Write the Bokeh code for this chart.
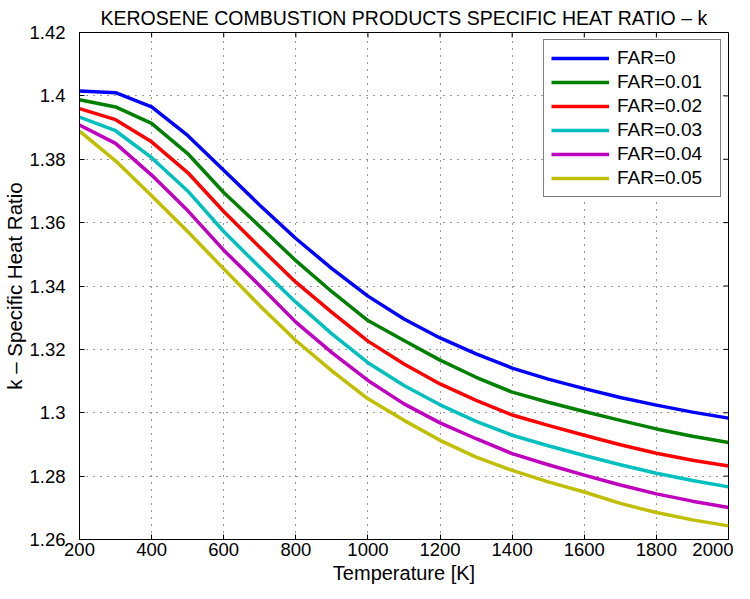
import math
from bokeh.plotting import figure
from bokeh.models import Range1d, FixedTicker, CustomJSTickFormatter
from bokeh.embed import file_html
from bokeh.resources import INLINE

# ---- data ----
temperature = [200, 300, 400, 500, 600, 700, 800, 900, 1000, 1100, 1200,
               1300, 1400, 1500, 1600, 1700, 1800, 1900, 2000]
k_far_000 = [1.4015, 1.4010, 1.3965, 1.3875, 1.3765, 1.3655, 1.3550, 1.3455, 1.3368, 1.3296,
             1.3236, 1.3186, 1.3141, 1.3106, 1.3076, 1.3048, 1.3024, 1.3002, 1.2983]
k_far_001 = [1.3988, 1.3965, 1.3913, 1.3818, 1.3695, 1.3588, 1.3480, 1.3382, 1.3291, 1.3228,
             1.3166, 1.3112, 1.3065, 1.3033, 1.3004, 1.2976, 1.2949, 1.2926, 1.2906]
k_far_002 = [1.3960, 1.3925, 1.3855, 1.3758, 1.3635, 1.3522, 1.3412, 1.3317, 1.3226, 1.3154,
             1.3091, 1.3039, 1.2993, 1.2960, 1.2929, 1.2899, 1.2872, 1.2850, 1.2832]
k_far_003 = [1.3933, 1.3890, 1.3805, 1.3700, 1.3572, 1.3459, 1.3349, 1.3249, 1.3158, 1.3086,
             1.3025, 1.2973, 1.2929, 1.2896, 1.2865, 1.2836, 1.2809, 1.2786, 1.2766]
k_far_004 = [1.3908, 1.3850, 1.3750, 1.3638, 1.3513, 1.3401, 1.3286, 1.3190, 1.3102, 1.3028,
             1.2968, 1.2918, 1.2871, 1.2836, 1.2803, 1.2772, 1.2744, 1.2721, 1.2701]
k_far_005 = [1.3889, 1.3795, 1.3685, 1.3572, 1.3454, 1.3338, 1.3228, 1.3132, 1.3044, 1.2976,
             1.2913, 1.2860, 1.2818, 1.2782, 1.2750, 1.2714, 1.2685, 1.2662, 1.2643]
series_labels = ["FAR=0", "FAR=0.01", "FAR=0.02", "FAR=0.03", "FAR=0.04", "FAR=0.05"]
series_colors = ["#0000FF", "#008000", "#FF0000", "#00BFBF", "#BF00BF", "#BFBF00"]
x_ticks = [200, 400, 600, 800, 1000, 1200, 1400, 1600, 1800, 2000]
y_ticks = [1.26, 1.28, 1.30, 1.32, 1.34, 1.36, 1.38, 1.40, 1.42]

FONT = "Liberation Sans"

p = figure(width=733, height=590, output_backend="svg", toolbar_location=None,
           x_range=Range1d(x_ticks[0], x_ticks[-1]), y_range=Range1d(y_ticks[0], y_ticks[-1]),
           min_border_left=75, min_border_right=5, min_border_top=26, min_border_bottom=51,
           background_fill_color="white", border_fill_color="white")

p.title.text = "KEROSENE COMBUSTION PRODUCTS SPECIFIC HEAT RATIO \u2013 k"
p.title.align = "center"
p.title.offset = 6
p.title.text_font = FONT
p.title.text_font_size = "19.5px"
p.title.text_font_style = "normal"
p.title.text_color = "black"
p.title.standoff = 8

p.outline_line_color = "black"
p.outline_line_width = 1
p.outline_line_alpha = 1

for g in (p.xgrid[0], p.ygrid[0]):
    g.grid_line_color = "#333333"
    g.grid_line_dash = "1 6"
    g.grid_line_width = 1
p.xgrid[0].ticker = FixedTicker(ticks=x_ticks)
p.ygrid[0].ticker = FixedTicker(ticks=y_ticks)

for k_vals, lab, col in zip([k_far_000, k_far_001, k_far_002, k_far_003, k_far_004, k_far_005],
                            series_labels, series_colors):
    p.line(temperature, k_vals, line_color=col, line_width=3.5, line_join="round",
           legend_label=lab)

# inward ticks on the top and right edges of the box
p.ray(x=x_ticks, y=[y_ticks[-1]] * len(x_ticks), length=5, length_units="screen",
      angle=-math.pi / 2, line_color="black", line_width=1)
p.ray(x=[x_ticks[-1]] * len(y_ticks), y=y_ticks, length=5, length_units="screen",
      angle=math.pi, line_color="black", line_width=1)

fmt = CustomJSTickFormatter(code="return (Math.round(tick*100)/100).toString();")

xa = p.xaxis[0]
xa.ticker = FixedTicker(ticks=x_ticks)
xa.axis_label = "Temperature [K]"
ya = p.yaxis[0]
ya.ticker = FixedTicker(ticks=y_ticks)
ya.formatter = fmt
ya.axis_label = "k \u2013 Specific Heat Ratio"

for ax in (xa, ya):
    ax.major_tick_in = 5
    ax.major_tick_out = 0
    ax.minor_tick_line_color = None
    ax.axis_line_color = "black"
    ax.major_tick_line_color = "black"
    ax.major_label_text_font = FONT
    ax.major_label_text_font_size = "18.5px"
    ax.major_label_text_color = "black"
    ax.axis_label_text_font = FONT
    ax.axis_label_text_font_style = "normal"
    ax.axis_label_text_color = "black"
xa.axis_label_text_font_size = "20px"
ya.axis_label_text_font_size = "20.5px"
xa.major_label_standoff = 3
xa.axis_label_standoff = 3
ya.major_label_standoff = 14
ya.axis_label_standoff = 0

lg = p.legend[0]
lg.location = "top_right"
lg.margin = 7
lg.padding = 7
lg.spacing = 2
lg.label_height = 22
lg.glyph_height = 22
lg.glyph_width = 58
lg.label_width = 96
lg.label_standoff = 8
lg.label_text_font = FONT
lg.label_text_font_size = "19px"
lg.label_text_color = "black"
lg.border_line_color = "black"
lg.border_line_width = 1
lg.background_fill_color = "white"
lg.background_fill_alpha = 1

open("out.html", "w").write(file_html(p, INLINE))
